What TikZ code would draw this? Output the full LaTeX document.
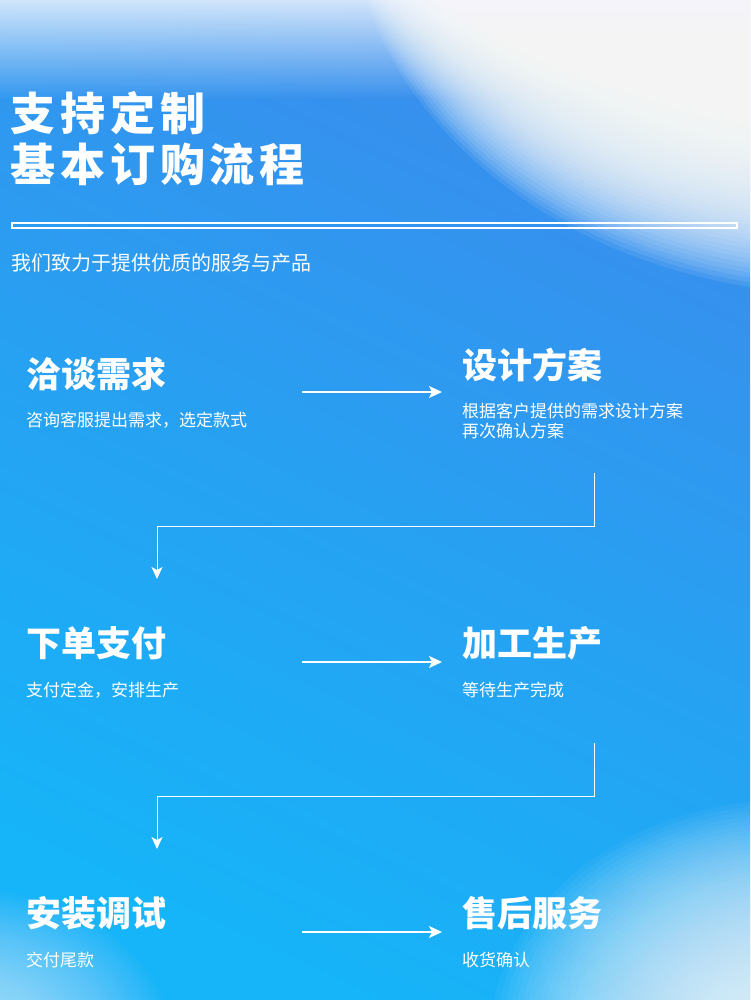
\documentclass[tikz,border=0pt]{standalone}
\usepackage{fontspec}
\newfontfamily\cjk{Noto Sans CJK SC}
\newfontfamily\cjkwide[LetterSpace=11,BoldFont={Noto Sans CJK SC Black}]{Noto Sans CJK SC}
\usetikzlibrary{arrows.meta,fadings}
\definecolor{bgtop}{HTML}{3A8CEC}
\definecolor{bgbot}{HTML}{16B4F8}
\tikzset{
  title/.style={anchor=west,inner sep=0pt,text=white,font=\cjkwide\bfseries\fontsize{45}{45}\selectfont},
  sub/.style={anchor=west,inner sep=0pt,text=white,font=\cjk\fontsize{20}{20}\selectfont},
  head/.style={anchor=west,inner sep=0pt,text=white,font=\cjk\bfseries\fontsize{35}{35}\selectfont},
  desc/.style={anchor=west,inner sep=0pt,text=white,align=left,font=\cjk\fontsize{17}{20}\selectfont},
  flow/.style={draw=white,line width=1.5pt,-{Stealth[length=13pt,width=12pt,inset=3pt]}},
  link/.style={draw=white,line width=1pt,-{Stealth[length=12pt,width=11pt,inset=3pt]}}
}
\begin{document}
\begin{tikzpicture}[x=1pt,y=-1pt]
  \useasboundingbox (0,0) rectangle (750,1000);
  % background and glows
  \shade[top color=bgtop, bottom color=bgbot, shading angle=-25] (0,0) rectangle (750,1000);
  \fill[white, path fading=south] (0,-30) rectangle (750,100);
  \foreach \k in {0,...,39} {
    \fill[white, opacity=.09] (850,-100) ellipse [x radius={500pt-3pt*\k}, y radius={395pt-4.8pt*\k}];
    \fill[white, opacity=.045] (790,1040) ellipse [x radius={300pt-5.64pt*\k}, y radius={240pt-4.6pt*\k}];
    \fill[white, opacity=.025] (-30,1040) ellipse [x radius={200pt-4.1pt*\k}, y radius={150pt-3.1pt*\k}];
  }
  % heading
  \node[title] (t1) at (10,113) {支持定制};
  \node[title] (t2) at (10,164) {基本订购流程};
  \draw[white, line width=1.2pt] (12,223) rectangle (737,228);
  \node[sub] (slogan) at (11,263) {我们致力于提供优质的服务与产品};
  % steps
  \node[head] (s1) at (26,374) {洽谈需求};
  \node[desc] (d1) at (26,420) {咨询客服提出需求，选定款式};
  \node[head] (s2) at (462,365) {设计方案};
  \node[desc] (d2) at (462,421) {根据客户提供的需求设计方案\\再次确认方案};
  \node[head] (s3) at (26,643) {下单支付};
  \node[desc] (d3) at (26,690) {支付定金，安排生产};
  \node[head] (s4) at (462,643) {加工生产};
  \node[desc] (d4) at (462,690) {等待生产完成};
  \node[head] (s5) at (26,913) {安装调试};
  \node[desc] (d5) at (26,960) {交付尾款};
  \node[head] (s6) at (462,913) {售后服务};
  \node[desc] (d6) at (462,960) {收货确认};
  % connectors
  \foreach \y/\n in {392/1,662/2,932/3} {
    \coordinate (a\n) at (302,\y);
    \coordinate (b\n) at (442,\y);
    \draw[flow] (a\n) -- (b\n);
  }
  \foreach \y/\n in {473/1,743/2} {
    \coordinate (u\n) at (594,\y);
    \coordinate (v\n) at (157,\y+53);
    \coordinate (w\n) at (157,\y+106);
    \draw[link] (u\n) |- (v\n) -- (w\n);
  }
\end{tikzpicture}
\end{document}
